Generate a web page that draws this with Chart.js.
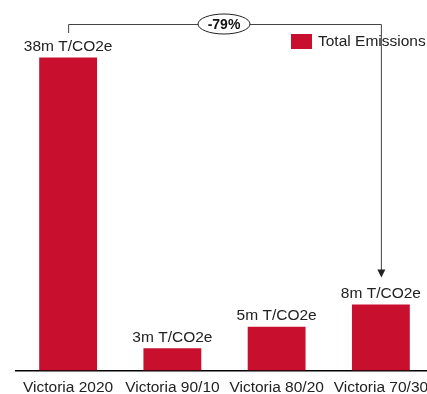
<!DOCTYPE html>
<html>
<head>
<meta charset="utf-8">
<script src="https://cdn.jsdelivr.net/npm/chart.js@4/dist/chart.umd.min.js"></script>
<style>
  html, body { margin: 0; padding: 0; background: #fff; overflow: hidden; }
  #wrap { width: 450px; height: 405px; position: relative; }
</style>
</head>
<body>
<div id="wrap"><canvas id="chart"></canvas></div>
<script>
let categories = ['Victoria 2020', 'Victoria 90/10', 'Victoria 80/20', 'Victoria 70/30'];
let emissions = [38, 2.7, 5.3, 8];
let valueLabels = ['38m T/CO2e', '3m T/CO2e', '5m T/CO2e', '8m T/CO2e'];
let seriesName = 'Total Emissions';
let changeLabel = '-79%';

let red = '#c8102e';
let font = '"Liberation Sans", Arial, sans-serif';

// value labels above each bar
let valueLabelPlugin = {
  id: 'valueLabels',
  afterDatasetsDraw(chart){
    let ctx = chart.ctx;
    let meta = chart.getDatasetMeta(0);
    ctx.save();
    ctx.font = '15.5px ' + font;
    ctx.fillStyle = '#222';
    ctx.textAlign = 'center';
    ctx.textBaseline = 'bottom';
    meta.data.forEach((bar, i) => {
      ctx.fillText(valueLabels[i], bar.x, bar.y - 3);
    });
    ctx.restore();
  }
};

// bracket with the -79% badge, plus the legend
let bracketPlugin = {
  id: 'bracket',
  afterDraw(chart){
    let ctx = chart.ctx;
    let meta = chart.getDatasetMeta(0);
    let first = meta.data[0];
    let last = meta.data[meta.data.length - 1];
    let lineY = 24;

    ctx.save();
    ctx.strokeStyle = '#444';
    ctx.lineWidth = 1;
    ctx.beginPath();
    ctx.moveTo(first.x + 0.5, 33);
    ctx.lineTo(first.x + 0.5, lineY + 0.5);
    ctx.lineTo(last.x + 0.5, lineY + 0.5);
    ctx.lineTo(last.x + 0.5, last.y - 30);
    ctx.stroke();

    // arrow head
    ctx.fillStyle = '#222';
    ctx.beginPath();
    ctx.moveTo(last.x + 0.5, last.y - 27);
    ctx.lineTo(last.x - 3.5, last.y - 35);
    ctx.lineTo(last.x + 4.5, last.y - 35);
    ctx.closePath();
    ctx.fill();

    // badge
    let bx = 224, by = lineY;
    ctx.beginPath();
    ctx.ellipse(bx, by, 26, 10, 0, 0, Math.PI * 2);
    ctx.fillStyle = '#fff';
    ctx.fill();
    ctx.strokeStyle = '#222';
    ctx.stroke();
    ctx.fillStyle = '#111';
    ctx.font = 'bold 14px ' + font;
    ctx.textAlign = 'center';
    ctx.textBaseline = 'middle';
    ctx.fillText(changeLabel, bx, by + 1);

    // legend
    ctx.fillStyle = red;
    ctx.fillRect(291, 34, 21, 15);
    ctx.fillStyle = '#222';
    ctx.font = '15.5px ' + font;
    ctx.textAlign = 'left';
    ctx.fillText(seriesName, 318, 42);
    ctx.restore();
  }
};

let ctx = document.getElementById('chart').getContext('2d');
let chart = new Chart(ctx, {
  type: 'bar',
  data: {
    labels: categories,
    datasets: [{
      label: seriesName,
      data: emissions,
      backgroundColor: red,
      categoryPercentage: 1,
      barPercentage: 0.555
    }]
  },
  options: {
    responsive: true,
    maintainAspectRatio: false,
    animation: false,
    layout: { padding: { left: 16, right: 17, top: 0, bottom: 0 } },
    plugins: {
      legend: { display: false },
      tooltip: { enabled: false }
    },
    scales: {
      x: {
        grid: { display: false, drawTicks: false },
        border: { display: true, color: '#000', width: 1.5 },
        ticks: {
          color: '#222',
          font: { family: font, size: 15.5 },
          padding: 8,
          maxRotation: 0,
          autoSkip: false
        }
      },
      y: {
        display: false,
        min: 0,
        max: 45
      }
    }
  },
  plugins: [valueLabelPlugin, bracketPlugin]
});
</script>
</body>
</html>
